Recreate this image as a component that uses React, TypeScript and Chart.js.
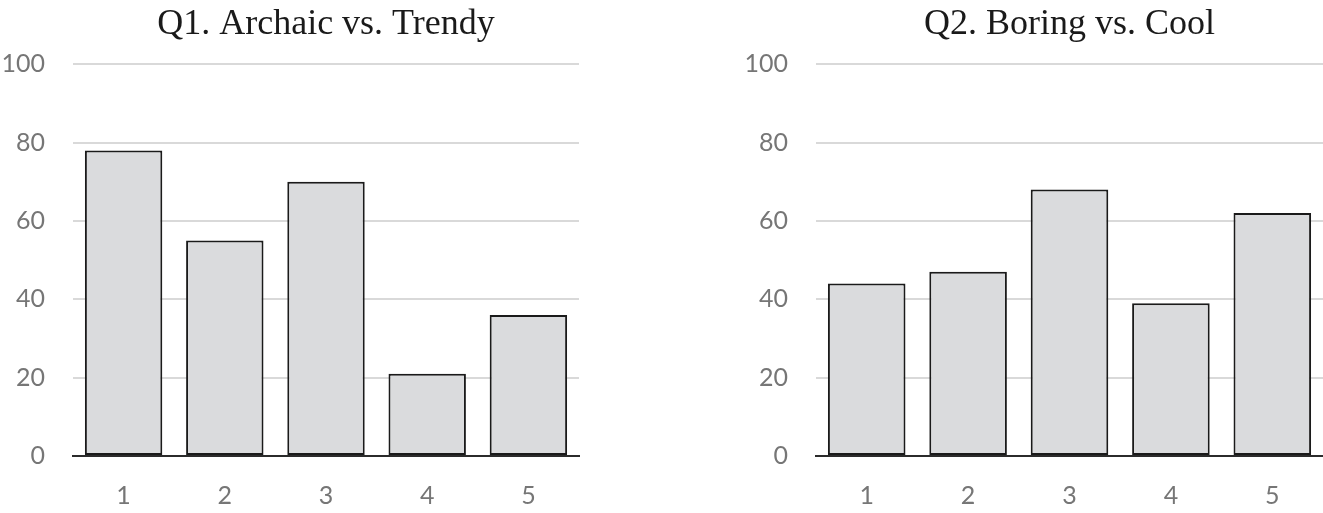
import React, { useEffect, useRef } from "react";
import { Chart, registerables } from "chart.js";

Chart.register(...registerables);

const categories = ["1", "2", "3", "4", "5"];
const q1Values = [78, 55, 70, 21, 36];
const q2Values = [44, 47, 68, 39, 62];
const q1Title = "Q1. Archaic vs. Trendy";
const q2Title = "Q2. Boring vs. Cool";
const yTicks = [0, 20, 40, 60, 80, 100];

const TICK_FONT = { family: "Lato, 'Open Sans', sans-serif", size: 25 };
const TICK_COLOR = "#767676";

function BarPanel(props: {
  title: string;
  values: number[];
  left: number;
  width: number;
  yAxisWidth: number;
  padRight: number;
}) {
  const ref = useRef<HTMLCanvasElement | null>(null);
  useEffect(() => {
    if (!ref.current) return;
    const chart = new Chart(ref.current, {
      type: "bar",
      data: {
        labels: categories,
        datasets: [
          {
            data: props.values,
            backgroundColor: "#dadbdd",
            borderColor: "#1a1a1a",
            borderWidth: 2,
            borderSkipped: false,
            barPercentage: 0.765,
            categoryPercentage: 1,
          },
        ],
      },
      options: {
        animation: false,
        responsive: false,
        maintainAspectRatio: false,
        layout: { padding: { left: 0, right: props.padRight, top: 0, bottom: 0 } },
        plugins: {
          legend: { display: false },
          tooltip: { enabled: false },
          title: {
            display: true,
            text: props.title,
            fullSize: false,
            color: "#1a1a1a",
            font: { family: "'Liberation Serif', 'Times New Roman', serif", size: 36, weight: "normal", lineHeight: 1.2 },
            padding: { top: 3, bottom: 18 },
          },
        },
        scales: {
          x: {
            grid: { display: false },
            border: { display: true, color: "#2b2b2b", width: 2 },
            ticks: { font: TICK_FONT, color: TICK_COLOR, padding: 17 },
            afterFit: (scale: any) => {
              scale.height = 57;
            },
          },
          y: {
            min: 0,
            max: 100,
            afterBuildTicks: (scale: any) => {
              scale.ticks = yTicks.map((v) => ({ value: v }));
            },
            grid: { color: "#d9d9d9", lineWidth: 2, drawTicks: false },
            border: { display: false },
            ticks: { font: TICK_FONT, color: TICK_COLOR, padding: 28 },
            afterFit: (scale: any) => {
              scale.width = props.yAxisWidth;
            },
          },
        },
      },
    } as any);
    return () => chart.destroy();
  }, []);
  return (
    <canvas
      ref={ref}
      width={props.width}
      height={513}
      style={{ position: "absolute", left: props.left, top: 0, width: props.width, height: 513 }}
    />
  );
}

export default function App() {
  useEffect(() => {
    document.body.style.margin = "0";
    document.body.style.background = "#ffffff";
  }, []);
  return (
    <div style={{ position: "fixed", left: 0, top: 0, width: 1323, height: 513, background: "#ffffff", overflow: "hidden" }}>
      <BarPanel title={q1Title} values={q1Values} left={0} width={620} yAxisWidth={73} padRight={41} />
      <BarPanel title={q2Title} values={q2Values} left={700} width={623} yAxisWidth={116} padRight={0} />
    </div>
  );
}
